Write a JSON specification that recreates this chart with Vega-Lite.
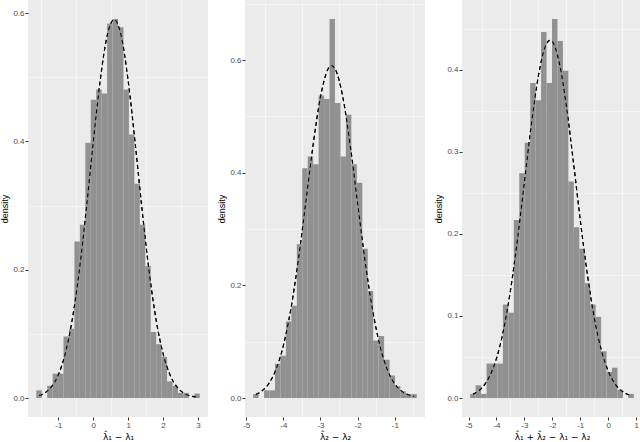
{
  "$schema": "https://vega.github.io/schema/vega-lite/v6.json",
  "padding": {"left": 0, "top": 0, "right": 0, "bottom": 0},
  "config": {
    "view": {"fill": "#EBEBEB", "stroke": null},
    "axis": {"domain": false, "tickColor": "#333333", "tickSize": 3, "labelColor": "#4D4D4D", "labelFont": "Liberation Sans", "labelFontSize": 8, "labelPadding": 1, "titleFont": "Liberation Sans", "titleFontSize": 9, "titleFontWeight": "normal", "titleColor": "#000000", "gridColor": "#FFFFFF", "gridWidth": 1.1, "labelFlush": false, "labelOverlap": false, "titlePadding": 3},
    "axisX": {"titleFont": "DejaVu Sans", "titleFontSize": 9},
    "concat": {"spacing": 9}
  },
  "datasets": {
    "bars1": [
      {"x": -1.628, "x1": -1.472, "density": 0.012},
      {"x": -1.472, "x1": -1.316, "density": 0},
      {"x": -1.316, "x1": -1.160, "density": 0.019},
      {"x": -1.160, "x1": -1.004, "density": 0.038},
      {"x": -1.004, "x1": -0.849, "density": 0.038},
      {"x": -0.849, "x1": -0.693, "density": 0.096},
      {"x": -0.693, "x1": -0.537, "density": 0.108},
      {"x": -0.537, "x1": -0.381, "density": 0.244},
      {"x": -0.381, "x1": -0.225, "density": 0.270},
      {"x": -0.225, "x1": -0.069, "density": 0.398},
      {"x": -0.069, "x1": 0.087, "density": 0.465},
      {"x": 0.087, "x1": 0.243, "density": 0.481},
      {"x": 0.243, "x1": 0.399, "density": 0.475},
      {"x": 0.399, "x1": 0.555, "density": 0.584},
      {"x": 0.555, "x1": 0.711, "density": 0.591},
      {"x": 0.711, "x1": 0.866, "density": 0.578},
      {"x": 0.866, "x1": 1.022, "density": 0.481},
      {"x": 1.022, "x1": 1.178, "density": 0.411},
      {"x": 1.178, "x1": 1.334, "density": 0.334},
      {"x": 1.334, "x1": 1.490, "density": 0.270},
      {"x": 1.490, "x1": 1.646, "density": 0.206},
      {"x": 1.646, "x1": 1.802, "density": 0.103},
      {"x": 1.802, "x1": 1.958, "density": 0.084},
      {"x": 1.958, "x1": 2.114, "density": 0.064},
      {"x": 2.114, "x1": 2.270, "density": 0.026},
      {"x": 2.270, "x1": 2.425, "density": 0.019},
      {"x": 2.425, "x1": 2.581, "density": 0.008},
      {"x": 2.581, "x1": 2.737, "density": 0.008},
      {"x": 2.737, "x1": 2.893, "density": 0},
      {"x": 2.893, "x1": 3.049, "density": 0.007}
    ],
    "curve1": [
      {"x": -1.55, "density": 0.0038},
      {"x": -1.4, "density": 0.0074},
      {"x": -1.2, "density": 0.017},
      {"x": -1.0, "density": 0.0358},
      {"x": -0.8, "density": 0.0691},
      {"x": -0.6, "density": 0.122},
      {"x": -0.4, "density": 0.1975},
      {"x": -0.2, "density": 0.293},
      {"x": 0.0, "density": 0.398},
      {"x": 0.2, "density": 0.495},
      {"x": 0.4, "density": 0.565},
      {"x": 0.6, "density": 0.59},
      {"x": 0.8, "density": 0.565},
      {"x": 1.0, "density": 0.495},
      {"x": 1.2, "density": 0.398},
      {"x": 1.4, "density": 0.293},
      {"x": 1.6, "density": 0.1975},
      {"x": 1.8, "density": 0.122},
      {"x": 2.0, "density": 0.0691},
      {"x": 2.2, "density": 0.0358},
      {"x": 2.4, "density": 0.017},
      {"x": 2.6, "density": 0.0074},
      {"x": 2.8, "density": 0.003},
      {"x": 2.97, "density": 0.0013}
    ],
    "bars2": [
      {"x": -4.812, "x1": -4.665, "density": 0.007},
      {"x": -4.665, "x1": -4.518, "density": 0},
      {"x": -4.518, "x1": -4.372, "density": 0.0137},
      {"x": -4.372, "x1": -4.225, "density": 0.0137},
      {"x": -4.225, "x1": -4.078, "density": 0.061},
      {"x": -4.078, "x1": -3.931, "density": 0.075},
      {"x": -3.931, "x1": -3.784, "density": 0.136},
      {"x": -3.784, "x1": -3.637, "density": 0.164},
      {"x": -3.637, "x1": -3.491, "density": 0.273},
      {"x": -3.491, "x1": -3.344, "density": 0.408},
      {"x": -3.344, "x1": -3.197, "density": 0.429},
      {"x": -3.197, "x1": -3.050, "density": 0.415},
      {"x": -3.050, "x1": -2.903, "density": 0.537},
      {"x": -2.903, "x1": -2.756, "density": 0.531},
      {"x": -2.756, "x1": -2.610, "density": 0.673},
      {"x": -2.610, "x1": -2.463, "density": 0.524},
      {"x": -2.463, "x1": -2.316, "density": 0.429},
      {"x": -2.316, "x1": -2.169, "density": 0.503},
      {"x": -2.169, "x1": -2.022, "density": 0.415},
      {"x": -2.022, "x1": -1.875, "density": 0.382},
      {"x": -1.875, "x1": -1.729, "density": 0.265},
      {"x": -1.729, "x1": -1.582, "density": 0.190},
      {"x": -1.582, "x1": -1.435, "density": 0.102},
      {"x": -1.435, "x1": -1.288, "density": 0.110},
      {"x": -1.288, "x1": -1.141, "density": 0.068},
      {"x": -1.141, "x1": -0.994, "density": 0.040},
      {"x": -0.994, "x1": -0.848, "density": 0.021},
      {"x": -0.848, "x1": -0.701, "density": 0.012},
      {"x": -0.701, "x1": -0.554, "density": 0.007},
      {"x": -0.554, "x1": -0.407, "density": 0.007}
    ],
    "curve2": [
      {"x": -4.74, "density": 0.0062},
      {"x": -4.6, "density": 0.0114},
      {"x": -4.4, "density": 0.025},
      {"x": -4.2, "density": 0.0503},
      {"x": -4.0, "density": 0.0929},
      {"x": -3.8, "density": 0.157},
      {"x": -3.6, "density": 0.2432},
      {"x": -3.4, "density": 0.3452},
      {"x": -3.2, "density": 0.4488},
      {"x": -3.0, "density": 0.5347},
      {"x": -2.8, "density": 0.5836},
      {"x": -2.7, "density": 0.59},
      {"x": -2.6, "density": 0.5836},
      {"x": -2.4, "density": 0.5347},
      {"x": -2.2, "density": 0.4488},
      {"x": -2.0, "density": 0.3452},
      {"x": -1.8, "density": 0.2432},
      {"x": -1.6, "density": 0.157},
      {"x": -1.4, "density": 0.0929},
      {"x": -1.2, "density": 0.0503},
      {"x": -1.0, "density": 0.025},
      {"x": -0.8, "density": 0.0114},
      {"x": -0.62, "density": 0.0052},
      {"x": -0.48, "density": 0.0027}
    ],
    "bars3": [
      {"x": -4.940, "x1": -4.745, "density": 0.005},
      {"x": -4.745, "x1": -4.550, "density": 0.0155},
      {"x": -4.550, "x1": -4.354, "density": 0.005},
      {"x": -4.354, "x1": -4.159, "density": 0.042},
      {"x": -4.159, "x1": -3.964, "density": 0.042},
      {"x": -3.964, "x1": -3.769, "density": 0.042},
      {"x": -3.769, "x1": -3.573, "density": 0.114},
      {"x": -3.573, "x1": -3.378, "density": 0.104},
      {"x": -3.378, "x1": -3.183, "density": 0.217},
      {"x": -3.183, "x1": -2.988, "density": 0.274},
      {"x": -2.988, "x1": -2.792, "density": 0.311},
      {"x": -2.792, "x1": -2.597, "density": 0.384},
      {"x": -2.597, "x1": -2.402, "density": 0.363},
      {"x": -2.402, "x1": -2.207, "density": 0.446},
      {"x": -2.207, "x1": -2.011, "density": 0.384},
      {"x": -2.011, "x1": -1.816, "density": 0.462},
      {"x": -1.816, "x1": -1.621, "density": 0.435},
      {"x": -1.621, "x1": -1.426, "density": 0.399},
      {"x": -1.426, "x1": -1.230, "density": 0.264},
      {"x": -1.230, "x1": -1.035, "density": 0.208},
      {"x": -1.035, "x1": -0.840, "density": 0.182},
      {"x": -0.840, "x1": -0.645, "density": 0.140},
      {"x": -0.645, "x1": -0.449, "density": 0.114},
      {"x": -0.449, "x1": -0.254, "density": 0.099},
      {"x": -0.254, "x1": -0.059, "density": 0.057},
      {"x": -0.059, "x1": 0.136, "density": 0.032},
      {"x": 0.136, "x1": 0.332, "density": 0.037},
      {"x": 0.332, "x1": 0.527, "density": 0.010},
      {"x": 0.527, "x1": 0.722, "density": 0},
      {"x": 0.722, "x1": 0.917, "density": 0.005}
    ],
    "curve3": [
      {"x": -4.84, "density": 0.0046},
      {"x": -4.75, "density": 0.0062},
      {"x": -4.5, "density": 0.0132},
      {"x": -4.25, "density": 0.0262},
      {"x": -4.0, "density": 0.0482},
      {"x": -3.75, "density": 0.0824},
      {"x": -3.5, "density": 0.1308},
      {"x": -3.25, "density": 0.1925},
      {"x": -3.0, "density": 0.263},
      {"x": -2.75, "density": 0.3335},
      {"x": -2.5, "density": 0.3924},
      {"x": -2.25, "density": 0.4286},
      {"x": -2.08, "density": 0.436},
      {"x": -2.0, "density": 0.4343},
      {"x": -1.75, "density": 0.4085},
      {"x": -1.5, "density": 0.3566},
      {"x": -1.25, "density": 0.2889},
      {"x": -1.0, "density": 0.2172},
      {"x": -0.75, "density": 0.1516},
      {"x": -0.5, "density": 0.0981},
      {"x": -0.25, "density": 0.059},
      {"x": 0.0, "density": 0.0329},
      {"x": 0.25, "density": 0.017},
      {"x": 0.5, "density": 0.0082},
      {"x": 0.75, "density": 0.0036},
      {"x": 0.82, "density": 0.0029}
    ]
  },
  "hconcat": [
    {
      "width": 180, "height": 417,
      "resolve": {"axis": {"x": "independent", "y": "independent"}},
      "layer": [
        {
          "data": {"name": "curve1"},
          "mark": {"type": "line", "color": "#000000", "strokeDash": [4, 3], "strokeWidth": 1.1, "interpolate": "monotone"},
          "encoding": {
            "x": {"field": "x", "type": "quantitative", "scale": {"domain": [-1.865, 3.285], "nice": false, "zero": false},
              "axis": {"orient": "bottom", "title": null, "labels": false, "ticks": false, "gridWidth": 0.5, "values": [-1.5, -0.5, 0.5, 1.5, 2.5]}},
            "y": {"field": "density", "type": "quantitative", "scale": {"domain": [-0.0296, 0.6206], "nice": false, "zero": false},
              "axis": {"orient": "left", "title": null, "labels": false, "ticks": false, "gridWidth": 0.5, "values": [0.1, 0.3, 0.5]}}
          }
        },
        {
          "data": {"name": "bars1"},
          "mark": {"type": "rect", "fill": "#919191"},
          "encoding": {
            "x": {"field": "x", "type": "quantitative",
              "axis": {"orient": "bottom", "title": "λ̂₁ − λ₁", "values": [-1, 0, 1, 2, 3],
                "labelExpr": "datum.value < 0 ? '-' + abs(datum.value) : '' + datum.value"}},
            "x2": {"field": "x1"},
            "y": {"field": "density", "type": "quantitative",
              "axis": {"orient": "left", "title": "density", "values": [0, 0.2, 0.4, 0.6], "format": ".1f"}},
            "y2": {"datum": 0}
          }
        },
        {
          "data": {"name": "curve1"},
          "mark": {"type": "line", "color": "#000000", "strokeDash": [4, 3], "strokeWidth": 1.1, "interpolate": "monotone"},
          "encoding": {"x": {"field": "x", "type": "quantitative", "axis": null}, "y": {"field": "density", "type": "quantitative", "axis": null}}
        }
      ]
    },
    {
      "width": 180, "height": 417,
      "resolve": {"axis": {"x": "independent", "y": "independent"}},
      "layer": [
        {
          "data": {"name": "curve2"},
          "mark": {"type": "line", "color": "#000000", "strokeDash": [4, 3], "strokeWidth": 1.1, "interpolate": "monotone"},
          "encoding": {
            "x": {"field": "x", "type": "quantitative", "scale": {"domain": [-5.032, -0.187], "nice": false, "zero": false},
              "axis": {"orient": "bottom", "title": null, "labels": false, "ticks": false, "gridWidth": 0.5, "values": [-4.5, -3.5, -2.5, -1.5, -0.5]}},
            "y": {"field": "density", "type": "quantitative", "scale": {"domain": [-0.0337, 0.7067], "nice": false, "zero": false},
              "axis": {"orient": "left", "title": null, "labels": false, "ticks": false, "gridWidth": 0.5, "values": [0.1, 0.3, 0.5, 0.7]}}
          }
        },
        {
          "data": {"name": "bars2"},
          "mark": {"type": "rect", "fill": "#919191"},
          "encoding": {
            "x": {"field": "x", "type": "quantitative",
              "axis": {"orient": "bottom", "title": "λ̂₂ − λ₂", "values": [-5, -4, -3, -2, -1],
                "labelExpr": "datum.value < 0 ? '-' + abs(datum.value) : '' + datum.value"}},
            "x2": {"field": "x1"},
            "y": {"field": "density", "type": "quantitative",
              "axis": {"orient": "left", "title": "density", "values": [0, 0.2, 0.4, 0.6], "format": ".1f"}},
            "y2": {"datum": 0}
          }
        },
        {
          "data": {"name": "curve2"},
          "mark": {"type": "line", "color": "#000000", "strokeDash": [4, 3], "strokeWidth": 1.1, "interpolate": "monotone"},
          "encoding": {"x": {"field": "x", "type": "quantitative", "axis": null}, "y": {"field": "density", "type": "quantitative", "axis": null}}
        }
      ]
    },
    {
      "width": 180, "height": 417,
      "resolve": {"axis": {"x": "independent", "y": "independent"}},
      "layer": [
        {
          "data": {"name": "curve3"},
          "mark": {"type": "line", "color": "#000000", "strokeDash": [4, 3], "strokeWidth": 1.1, "interpolate": "monotone"},
          "encoding": {
            "x": {"field": "x", "type": "quantitative", "scale": {"domain": [-5.233, 1.21], "nice": false, "zero": false},
              "axis": {"orient": "bottom", "title": null, "labels": false, "ticks": false, "gridWidth": 0.5, "values": [-4.5, -3.5, -2.5, -1.5, -0.5, 0.5]}},
            "y": {"field": "density", "type": "quantitative", "scale": {"domain": [-0.0231, 0.4851], "nice": false, "zero": false},
              "axis": {"orient": "left", "title": null, "labels": false, "ticks": false, "gridWidth": 0.5, "values": [0.05, 0.15, 0.25, 0.35, 0.45]}}
          }
        },
        {
          "data": {"name": "bars3"},
          "mark": {"type": "rect", "fill": "#919191"},
          "encoding": {
            "x": {"field": "x", "type": "quantitative",
              "axis": {"orient": "bottom", "title": "λ̂₁ + λ̂₂ − λ₁ − λ₂", "values": [-5, -4, -3, -2, -1, 0, 1],
                "labelExpr": "datum.value < 0 ? '-' + abs(datum.value) : '' + datum.value"}},
            "x2": {"field": "x1"},
            "y": {"field": "density", "type": "quantitative",
              "axis": {"orient": "left", "title": "density", "values": [0, 0.1, 0.2, 0.3, 0.4], "format": ".1f"}},
            "y2": {"datum": 0}
          }
        },
        {
          "data": {"name": "curve3"},
          "mark": {"type": "line", "color": "#000000", "strokeDash": [4, 3], "strokeWidth": 1.1, "interpolate": "monotone"},
          "encoding": {"x": {"field": "x", "type": "quantitative", "axis": null}, "y": {"field": "density", "type": "quantitative", "axis": null}}
        }
      ]
    }
  ]
}
